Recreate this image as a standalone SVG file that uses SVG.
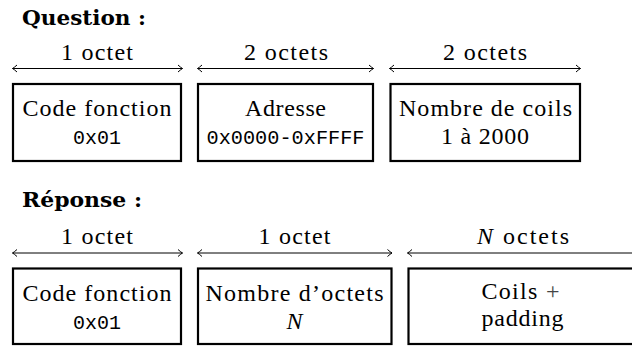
<svg xmlns="http://www.w3.org/2000/svg" width="632" height="347" viewBox="0 0 632 347">
<style>
.t{font-family:"Liberation Serif","Times New Roman",serif;font-size:24px;fill:#000;text-anchor:middle}
.m{font-family:"Liberation Mono","Courier New",monospace;font-size:20px;fill:#000;text-anchor:middle}
.h{font-family:"DejaVu Serif","Liberation Serif",serif;font-size:20px;font-weight:bold;fill:#000}
.box{fill:#fff;stroke:#000;stroke-width:2.2}
.arr{stroke:#000;stroke-width:1;fill:none}
</style>
<defs>
<marker id="ah" markerWidth="10" markerHeight="10" refX="0" refY="0" viewBox="-6 -5 8 10" orient="auto-start-reverse" markerUnits="userSpaceOnUse">
<path d="M-4.5,-3.5 Q-1.5,-0.8 0,0 Q-1.5,0.8 -4.5,3.5" fill="none" stroke="#000" stroke-width="1"/>
</marker>
</defs>
<text class="h" x="22" y="25" textLength="124" lengthAdjust="spacingAndGlyphs">Question :</text>
<text class="h" x="22" y="206.5" textLength="120" lengthAdjust="spacingAndGlyphs">Réponse :</text>
<g id="connectors">
<line class="arr" x1="12.5" y1="68.5" x2="182.5" y2="68.5" marker-start="url(#ah)" marker-end="url(#ah)"/>
<line class="arr" x1="197.5" y1="68.5" x2="373.5" y2="68.5" marker-start="url(#ah)" marker-end="url(#ah)"/>
<line class="arr" x1="389.5" y1="68.5" x2="580.5" y2="68.5" marker-start="url(#ah)" marker-end="url(#ah)"/>
<line class="arr" x1="12.5" y1="253" x2="182.5" y2="253" marker-start="url(#ah)" marker-end="url(#ah)"/>
<line class="arr" x1="197.5" y1="253" x2="392" y2="253" marker-start="url(#ah)" marker-end="url(#ah)"/>
<line class="arr" x1="407.5" y1="253" x2="640" y2="253" marker-start="url(#ah)"/>
</g>
<g id="lbl-q1"><text class="t" x="97" y="60" textLength="72" lengthAdjust="spacing">1 octet</text></g>
<g id="lbl-q2"><text class="t" x="286" y="60" textLength="84" lengthAdjust="spacing">2 octets</text></g>
<g id="lbl-q3"><text class="t" x="485" y="60" textLength="84" lengthAdjust="spacing">2 octets</text></g>
<g id="lbl-r1"><text class="t" x="97" y="243.5" textLength="72" lengthAdjust="spacing">1 octet</text></g>
<g id="lbl-r2"><text class="t" x="294.5" y="243.5" textLength="72" lengthAdjust="spacing">1 octet</text></g>
<g id="lbl-r3"><text class="t" x="523" y="243.5" textLength="92" lengthAdjust="spacing"><tspan font-style="italic">N</tspan> octets</text></g>
<g id="q-code">
<rect class="box" x="13" y="84" width="168" height="77"/>
<text class="t" x="97" y="115.7" textLength="149" lengthAdjust="spacing">Code fonction</text>
<text class="m" x="97" y="144">0x01</text>
</g>
<g id="q-adresse">
<rect class="box" x="198" y="84" width="175" height="77"/>
<text class="t" x="285.5" y="115.7" textLength="81" lengthAdjust="spacing">Adresse</text>
<text class="m" x="285.5" y="144" textLength="158" lengthAdjust="spacingAndGlyphs">0x0000-0xFFFF</text>
</g>
<g id="q-coils">
<rect class="box" x="390.5" y="84" width="189.5" height="77"/>
<text class="t" x="485.5" y="115.7" textLength="173" lengthAdjust="spacing">Nombre de coils</text>
<text class="t" x="485" y="144" textLength="88" lengthAdjust="spacing">1 à 2000</text>
</g>
<g id="r-code">
<rect class="box" x="13" y="268.5" width="168" height="75.5"/>
<text class="t" x="97" y="300.5" textLength="149" lengthAdjust="spacing">Code fonction</text>
<text class="m" x="97" y="329">0x01</text>
</g>
<g id="r-nombre">
<rect class="box" x="198" y="268.5" width="193.5" height="75.5"/>
<text class="t" x="294.5" y="300.5" textLength="178" lengthAdjust="spacing">Nombre d’octets</text>
<text class="t" x="294.5" y="329" font-style="italic">N</text>
</g>
<g id="r-coils">
<rect class="box" x="408.5" y="268.5" width="240" height="75.5"/>
<text class="t" x="520.5" y="298.5" textLength="78" lengthAdjust="spacing">Coils <tspan fill="#444">+</tspan></text>
<text class="t" x="522.5" y="325.5" textLength="82" lengthAdjust="spacing">padding</text>
</g>
</svg>
